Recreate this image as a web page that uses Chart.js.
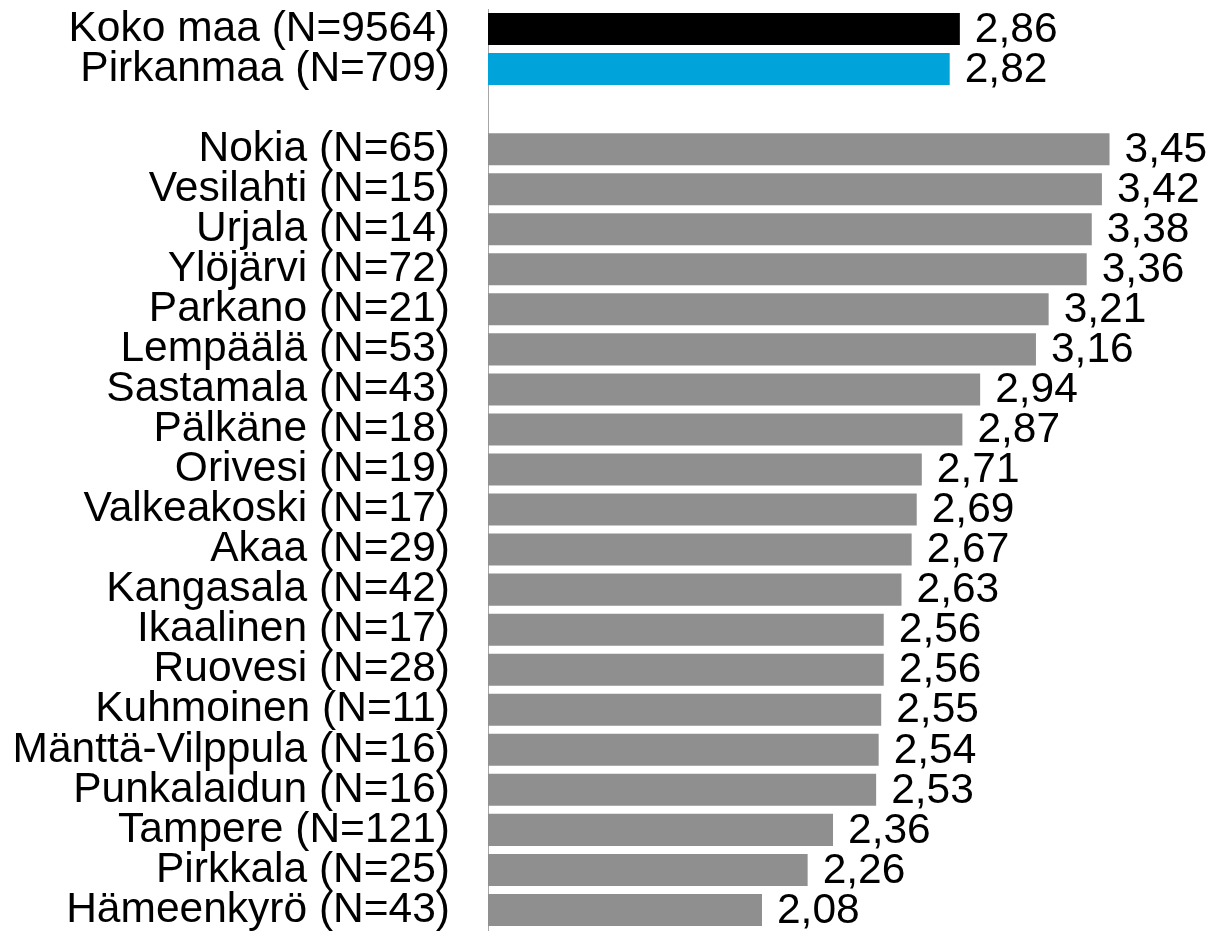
<!DOCTYPE html>
<html>
<head>
<meta charset="utf-8">
<script src="https://cdn.jsdelivr.net/npm/chart.js@4/dist/chart.umd.min.js"></script>
<style>
  html, body { margin: 0; padding: 0; background: #fff; }
  #wrap { width: 1211px; height: 931px; }
</style>
</head>
<body>
<div id="wrap"><canvas id="ctx"></canvas></div>
<script>
// rows top to bottom, '' is the empty gap row
var categories = ['Koko maa (N=9564)', 'Pirkanmaa (N=709)', '',
  'Nokia (N=65)', 'Vesilahti (N=15)', 'Urjala (N=14)', 'Ylöjärvi (N=72)',
  'Parkano (N=21)', 'Lempäälä (N=53)', 'Sastamala (N=43)', 'Pälkäne (N=18)',
  'Orivesi (N=19)', 'Valkeakoski (N=17)', 'Akaa (N=29)', 'Kangasala (N=42)',
  'Ikaalinen (N=17)', 'Ruovesi (N=28)', 'Kuhmoinen (N=11)', 'Mänttä-Vilppula (N=16)',
  'Punkalaidun (N=16)', 'Tampere (N=121)', 'Pirkkala (N=25)', 'Hämeenkyrö (N=43)'];
var values = [2.86, 2.82, null,
  3.45, 3.42, 3.38, 3.36, 3.21, 3.16, 2.94, 2.87, 2.71, 2.69, 2.67, 2.63,
  2.56, 2.56, 2.55, 2.54, 2.53, 2.36, 2.26, 2.08];
var axisMin = 1;
var axisMax = 3.85;

var barColors = categories.map(function(c, i){
  if (i === 0) return '#000000';
  if (i === 1) return '#00A3DA';
  return '#8F8F8F';
});

var fontFamily = '"Liberation Sans", Arial, sans-serif';

var valueLabels = {
  id: 'valueLabels',
  afterDatasetsDraw: function(chart){
    var c = chart.ctx;
    var meta = chart.getDatasetMeta(0);
    c.save();
    c.font = '42.5px ' + fontFamily;
    c.fillStyle = '#000';
    c.textAlign = 'left';
    c.textBaseline = 'middle';
    meta.data.forEach(function(bar, i){
      var v = values[i];
      if (v === null) return;
      c.fillText(v.toFixed(2).replace('.', ','), bar.x + 15, bar.y + 1);
    });
    c.restore();
  }
};

var chart = new Chart(document.getElementById('ctx'), {
  type: 'bar',
  data: {
    labels: categories,
    datasets: [{
      data: values,
      backgroundColor: barColors,
      borderWidth: 0,
      barPercentage: 0.8,
      categoryPercentage: 1.0
    }]
  },
  options: {
    indexAxis: 'y',
    responsive: true,
    maintainAspectRatio: false,
    animation: false,
    layout: { padding: { top: 9, bottom: 1, left: 0, right: 0 } },
    plugins: {
      legend: { display: false },
      title: { display: false },
      tooltip: { enabled: false }
    },
    scales: {
      x: {
        display: false,
        min: axisMin,
        max: axisMax
      },
      y: {
        afterFit: function(scale){
          scale.width = 488;
          scale.paddingTop = 0;
          scale.paddingBottom = 0;
        },
        grid: { display: false, drawTicks: false },
        border: { display: true, color: '#A6A6A6', width: 1 },
        ticks: {
          padding: 38,
          color: '#000',
          font: { size: 42.5, family: fontFamily },
          autoSkip: false
        }
      }
    }
  },
  plugins: [valueLabels]
});
</script>
</body>
</html>
